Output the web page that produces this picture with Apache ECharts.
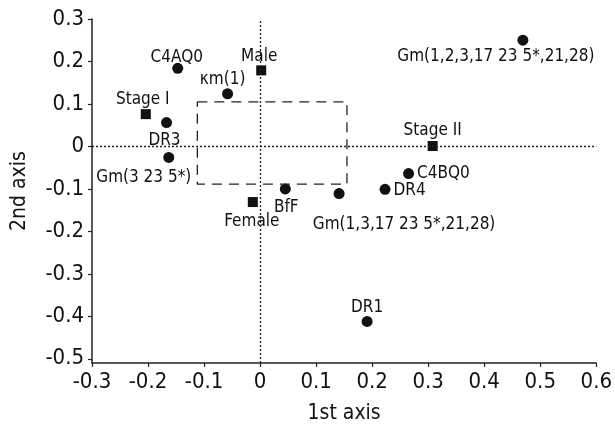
<!DOCTYPE html>
<html>
<head>
<meta charset="utf-8">
<script src="https://cdn.jsdelivr.net/npm/echarts@6/dist/echarts.min.js"></script>
<style>
  html, body { margin: 0; padding: 0; background: #fff; }
  #chart { width: 615px; height: 429px; }
</style>
</head>
<body>
<div id="chart"></div>
<script>
// genetic / serological markers (circles)
const markerNames = ["C4AQ0", "κm(1)", "DR3", "Gm(3 23 5*)", "BfF", "Gm(1,3,17 23 5*,21,28)", "DR4", "C4BQ0", "Gm(1,2,3,17 23 5*,21,28)", "DR1"];
const markerX = [-0.147, -0.058, -0.167, -0.163, 0.045, 0.141, 0.223, 0.265, 0.469, 0.191];
const markerY = [0.184, 0.124, 0.056, -0.026, -0.100, -0.111, -0.101, -0.064, 0.250, -0.412];

// clinical variables (squares)
const clinicalNames = ["Male", "Female", "Stage I", "Stage II"];
const clinicalX = [0.002, -0.013, -0.204, 0.308];
const clinicalY = [0.179, -0.131, 0.076, 0.001];

// dashed box
const boxX = [-0.112, 0.155];
const boxY = [-0.089, 0.105];

const yTicks = [-0.5, -0.4, -0.3, -0.2, -0.1, 0, 0.1, 0.2, 0.3];

const FONT = '"Liberation Sans Narrow", "Arial Narrow", "DejaVu Sans Condensed", sans-serif';
const INK = "#111";

// where each label sits relative to its point
const labelLayout = {
  "C4AQ0": ["top", -1, 6],
  "κm(1)": ["top", -5, 3],
  "DR3": ["bottom", -2, 1],
  "Gm(3 23 5*)": ["bottom", -25, 3],
  "BfF": ["bottom", 1, 2],
  "Gm(1,3,17 23 5*,21,28)": ["bottom", 65, 14],
  "DR4": ["right", 0, 1],
  "C4BQ0": ["right", 0, 0],
  "Gm(1,2,3,17 23 5*,21,28)": ["bottom", -27, -1],
  "DR1": ["top", 0, 3],
  "Male": ["top", -2, 3],
  "Female": ["bottom", -1, 3],
  "Stage I": ["top", -3, 2],
  "Stage II": ["top", 0, 1]
};

function points(names, xs, ys) {
  return names.map(function (n, i) {
    const l = labelLayout[n] || ["top", 0, 0];
    return {
      name: n,
      value: [xs[i], ys[i]],
      label: { position: l[0], offset: [l[1], l[2]] }
    };
  });
}

const boxData = [
  [boxX[0], boxY[1]], [boxX[1], boxY[1]], [boxX[1], boxY[0]],
  [boxX[0], boxY[0]], [boxX[0], boxY[1]]
];

const chart = echarts.init(document.getElementById("chart"));
chart.setOption({
  animation: false,
  backgroundColor: "#fff",
  textStyle: { fontFamily: FONT },
  grid: { left: 92, right: 16, top: 19, bottom: 66, containLabel: false },
  xAxis: {
    type: "value",
    min: -0.3,
    max: 0.6,
    interval: 0.1,
    name: "1st axis",
    nameLocation: "middle",
    nameGap: 40,
    nameTextStyle: { fontSize: 21, color: INK, fontFamily: FONT },
    axisLine: { show: true, onZero: false, lineStyle: { color: "#222", width: 1.5 } },
    axisTick: { show: true, length: 4, lineStyle: { color: "#222", width: 1.2 } },
    axisLabel: { fontSize: 22, color: INK, margin: 8, fontFamily: FONT },
    splitLine: { show: false }
  },
  yAxis: {
    type: "value",
    min: -0.51,
    max: 0.3,
    name: "2nd axis",
    nameLocation: "middle",
    nameGap: 62,
    nameTextStyle: { fontSize: 21, color: INK, fontFamily: FONT },
    axisLine: { show: true, onZero: false, lineStyle: { color: "#222", width: 1.5 } },
    axisTick: { show: true, length: 4, customValues: yTicks, lineStyle: { color: "#222", width: 1.2 } },
    axisLabel: { fontSize: 22, color: INK, margin: 8, fontFamily: FONT, customValues: yTicks },
    splitLine: { show: false }
  },
  series: [
    {
      type: "line",
      data: boxData,
      symbol: "none",
      silent: true,
      lineStyle: { color: "#222", width: 1.3, type: [10, 7] },
      markLine: {
        silent: true,
        symbol: "none",
        label: { show: false },
        lineStyle: { color: "#222", width: 1.3, type: [2, 2] },
        data: [{ xAxis: 0 }, { yAxis: 0 }]
      }
    },
    {
      type: "scatter",
      symbol: "circle",
      symbolSize: 11,
      itemStyle: { color: INK, opacity: 1 },
      label: { show: true, formatter: "{b}", fontSize: 17, color: INK, fontFamily: FONT, distance: 3 },
      data: points(markerNames, markerX, markerY)
    },
    {
      type: "scatter",
      symbol: "rect",
      symbolSize: 10,
      itemStyle: { color: INK, opacity: 1 },
      label: { show: true, formatter: "{b}", fontSize: 17, color: INK, fontFamily: FONT, distance: 3 },
      data: points(clinicalNames, clinicalX, clinicalY)
    }
  ]
});
</script>
</body>
</html>
